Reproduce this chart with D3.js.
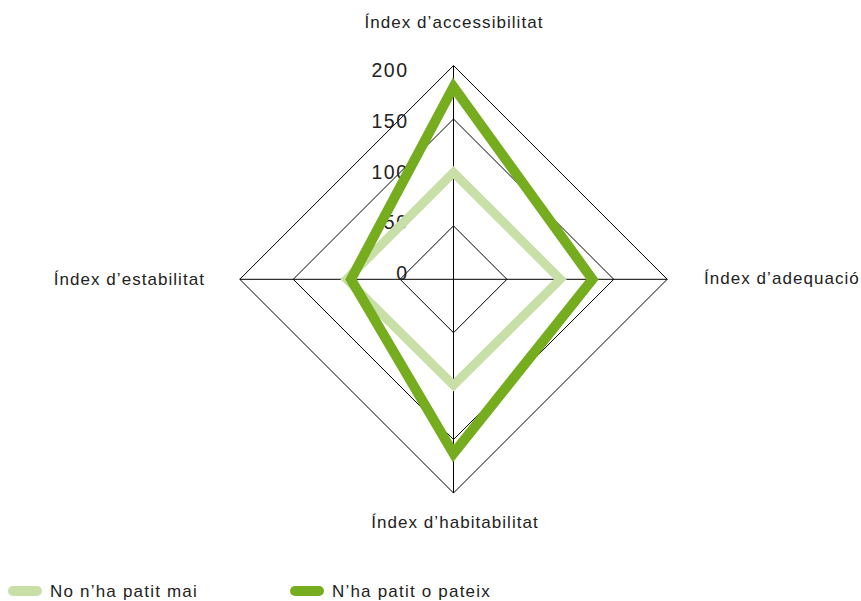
<!DOCTYPE html>
<html><head><meta charset="utf-8">
<script src="https://cdn.jsdelivr.net/npm/d3@7"></script>
<style>body{margin:0;background:#fff}svg{display:block;font-family:"Liberation Sans",Arial,sans-serif}</style>
</head><body><svg id="c" width="861" height="601"></svg>
<script>
const axes = ["Índex d’accessibilitat", "Índex d’adequació", "Índex d’habitabilitat", "Índex d’estabilitat"];
const seriesNames = ["No n’ha patit mai", "N’ha patit o pateix"];
const seriesNoMai = [100, 100, 99, 100];
const seriesPateix = [180, 130, 163, 96];
const tickValues = [0, 50, 100, 150, 200];
const colors = ["#c8dfa7", "#76ad1f"];

const svg = d3.select("#c");
const cx = 453.5, cy = 279.3, R = 213.7;
const r = d3.scaleLinear().domain([0, 200]).range([0, R]);
const ang = i => i * Math.PI / 2 - Math.PI / 2;
const pt = (i, v) => [cx + r(v) * Math.cos(ang(i)), cy + r(v) * Math.sin(ang(i))];

const g = svg.append("g");
tickValues.filter(t => t > 0).forEach(t => {
  g.append("path").attr("d", d3.line()(axes.map((a, i) => pt(i, t))) + "Z")
    .attr("fill", "none").attr("stroke", "#000").attr("stroke-width", 1);
});
axes.forEach((a, i) => {
  const [x, y] = pt(i, 200);
  g.append("line").attr("x1", cx).attr("y1", cy).attr("x2", x).attr("y2", y)
    .attr("stroke", "#000").attr("stroke-width", 1);
});
const labelY = d3.scaleLinear().domain([0, 200]).range([cy - 5.8, cy - 209.3]);
g.selectAll(".tick").data(tickValues).join("text")
  .attr("x", 408.5).attr("y", d => labelY(d)).attr("dy", "0.35em")
  .attr("text-anchor", "end").attr("font-size", 19.5).attr("letter-spacing", 1.5).attr("fill", "#222")
  .text(d => d);

const series = [seriesNoMai, seriesPateix];
series.forEach((s, k) => {
  g.append("path").attr("d", d3.line()(s.map((v, i) => pt(i, v))) + "Z")
    .attr("fill", "none").attr("stroke", colors[k]).attr("stroke-width", k ? 10 : 9)
    .attr("stroke-linejoin", "miter").attr("stroke-miterlimit", 10);
});

const fs = 17, ls = 1.05;
function label(x, y, anchor, t) {
  svg.append("text").attr("x", x).attr("y", y).attr("dy", "0.35em").attr("text-anchor", anchor)
    .attr("font-size", fs).attr("letter-spacing", ls).attr("fill", "#222").text(t);
}
label(454, 22, "middle", axes[0]);
label(704, 278, "start", axes[1]);
label(455, 522, "middle", axes[2]);
label(205, 279, "end", axes[3]);

const lx = [8, 290];
seriesNames.forEach((n, k) => {
  svg.append("rect").attr("x", lx[k]).attr("y", 586).attr("width", 34).attr("height", 10)
    .attr("rx", 5).attr("fill", colors[k]);
  svg.append("text").attr("x", lx[k] + 42).attr("y", 591).attr("dy", "0.35em")
    .attr("font-size", fs).attr("letter-spacing", 1.2).attr("fill", "#222").text(n);
});
</script></body></html>
